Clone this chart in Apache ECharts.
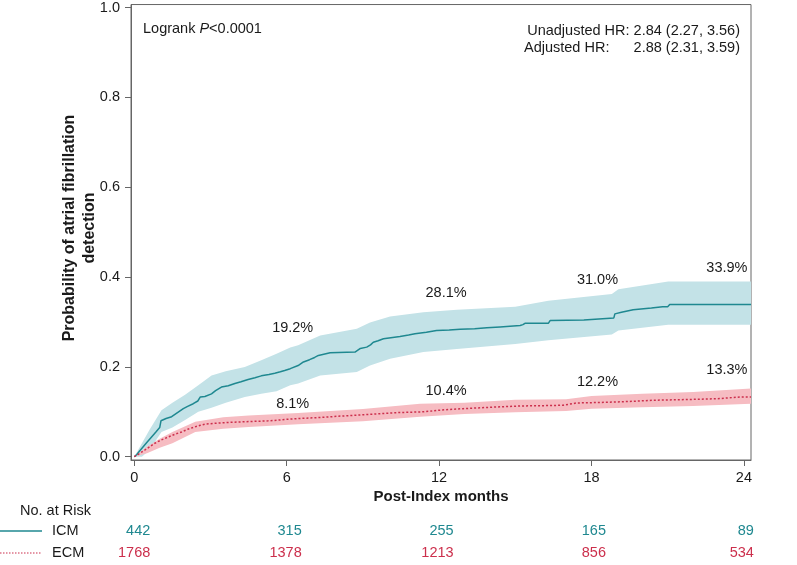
<!DOCTYPE html>
<html>
<head>
<meta charset="utf-8">
<script src="https://cdn.jsdelivr.net/npm/echarts@6/dist/echarts.min.js"></script>
<style>html,body{margin:0;padding:0;background:#fff}#c{width:797px;height:565px}</style>
</head>
<body>
<div id="c"></div>
<script>
// ---- data ----
const xTicks = [0, 6, 12, 18, 24];
const yTicks = [0, 0.2, 0.4, 0.6, 0.8, 1.0];
const groups = ['ICM', 'ECM'];

const icmTime = [0,0.1,0.2,0.35,0.5,0.68,0.85,1.0,1.05,1.25,1.47,1.7,1.93,2.1,2.32,2.5,2.6,2.78,3.04,3.2,3.43,3.7,3.96,4.2,4.48,4.75,5.0,5.3,5.53,5.75,5.92,6.14,6.45,6.66,6.9,7.1,7.25,7.71,8.69,8.9,9.15,9.3,9.41,9.6,9.81,10.1,10.46,10.8,11.05,11.5,11.9,12.4,12.83,13.4,13.88,14.4,14.79,15.19,15.3,15.38,16.3,16.37,17.7,17.74,18.88,18.92,19.18,19.64,20.36,20.8,21.0,21.08,24.28];
const icmEst  = [0,0.005,0.012,0.022,0.032,0.044,0.055,0.065,0.08,0.085,0.089,0.098,0.107,0.112,0.118,0.124,0.133,0.134,0.14,0.147,0.155,0.158,0.163,0.167,0.172,0.176,0.18,0.183,0.186,0.189,0.192,0.196,0.203,0.211,0.216,0.221,0.2255,0.2315,0.233,0.241,0.244,0.249,0.255,0.258,0.2625,0.265,0.2676,0.271,0.2736,0.277,0.281,0.282,0.284,0.285,0.287,0.289,0.2905,0.292,0.294,0.297,0.297,0.303,0.3046,0.309,0.309,0.318,0.3215,0.327,0.331,0.334,0.334,0.339,0.339];

const icmBandTime = [0,0.3,0.6,1.07,1.5,2.0,2.52,3.04,3.6,4.35,5.0,5.6,6.14,6.45,7.32,8.76,9.28,10.07,11.38,12.7,15.0,16.3,18.8,19.06,21.02,24.28];
const icmLower = [0,0.0,0.015,0.055,0.065,0.082,0.1,0.109,0.12,0.133,0.14,0.146,0.159,0.163,0.181,0.1885,0.203,0.218,0.233,0.24,0.251,0.259,0.272,0.281,0.2935,0.2935];
const icmUpper = [0,0.03,0.06,0.1035,0.12,0.138,0.159,0.181,0.19,0.2,0.215,0.229,0.243,0.248,0.27,0.285,0.299,0.312,0.3215,0.327,0.334,0.347,0.362,0.373,0.39,0.39];

const ecmTime = [0,0.2,0.42,0.6,0.81,1.05,1.34,1.6,1.86,2.1,2.39,2.6,2.78,3.1,3.43,3.8,4.22,4.7,5.27,5.6,5.92,6.45,7.2,8.0,8.76,9.5,10.3,11.38,12.1,12.95,14.0,15.19,16.0,16.89,17.42,18.5,19.5,20.43,21.5,22.3,23.05,23.84,24.28];
const ecmEst  = [0,0.007,0.015,0.022,0.03,0.037,0.044,0.05,0.055,0.061,0.0665,0.07,0.0725,0.074,0.0754,0.0765,0.0776,0.0787,0.0798,0.081,0.083,0.085,0.087,0.09,0.0925,0.095,0.098,0.1,0.104,0.107,0.11,0.113,0.1135,0.1146,0.1197,0.121,0.123,0.1257,0.127,0.128,0.1294,0.133,0.133];

const ecmBandTime = [0,0.5,1.0,1.5,2.4,3.5,4.5,6.45,9,11.25,13,15,17,18,20,22,24.28];
const ecmLower = [0,0.008,0.02,0.03,0.055,0.062,0.066,0.0725,0.079,0.089,0.095,0.099,0.102,0.107,0.11,0.113,0.118];
const ecmUpper = [0,0.022,0.04,0.055,0.078,0.088,0.092,0.0976,0.106,0.118,0.12,0.127,0.128,0.135,0.14,0.144,0.152];

const pctMonths = [6, 12, 18, 24];
const icmPct = [19.2, 28.1, 31.0, 33.9];
const ecmPct = [8.1, 10.4, 12.2, 13.3];

const riskMonths = [0, 6, 12, 18, 24];
const icmRisk = [442, 315, 255, 165, 89];
const ecmRisk = [1768, 1378, 1213, 856, 534];

const logrankText = ['Logrank ', 'P', '<0.0001'];
const hrUnadj = 'Unadjusted HR: 2.84 (2.27, 3.56)';
const hrAdjLabel = 'Adjusted HR:';
const hrAdjValue = '2.88 (2.31, 3.59)';
const yTitle = 'Probability of atrial fibrillation\ndetection';
const xTitle = 'Post-Index months';

// ---- style ----
const FONT = '"Liberation Sans", Arial, Helvetica, sans-serif';
const FS = 14.5;
const C_ICM = '#1f8890';
const C_ICM_BAND = '#c3e2e7';
const C_ECM = '#cc2f4c';
const C_ECM_BAND = '#f6bcc2';
const C_TXT = '#1a1a1a';
const C_AXIS = '#666';

const zip = (a, b) => a.map((v, i) => [v, b[i]]);

function bandSeries(name, t, lo, up, color) {
  return {
    type: 'custom', name: name, silent: true, z: 1,
    data: [[0]],
    renderItem: function (params, api) {
      const pts = [];
      for (let i = 0; i < t.length; i++) pts.push(api.coord([t[i], up[i]]));
      for (let i = t.length - 1; i >= 0; i--) pts.push(api.coord([t[i], lo[i]]));
      return { type: 'polygon', shape: { points: pts }, style: { fill: color } };
    },
    clip: true
  };
}

const chart = echarts.init(document.getElementById('c'), null, { renderer: 'canvas' });

const icmOffsets = [[6, -42], [7, -37], [6, -37.5], [-17, -36.5]];
const ecmOffsets = [[6, -16], [7, -19], [6, -20], [-17, -27]];

function pctSeries(vals, offs) {
  return {
    type: 'scatter', symbolSize: 0, silent: true, z: 5,
    itemStyle: { opacity: 1 },
    data: vals.map((v, i) => ({
      value: [pctMonths[i], v / 100],
      label: { show: true, position: 'inside', offset: offs[i], formatter: v.toFixed(1) + '%',
               color: C_TXT, fontSize: FS, fontFamily: FONT, opacity: 1 }
    }))
  };
}

const option = {
  animation: false,
  backgroundColor: '#fff',
  grid: { left: 131, right: 46, top: 3, bottom: 105, show: true, borderColor: C_AXIS, borderWidth: 1, backgroundColor: 'transparent' },
  xAxis: {
    type: 'value', min: -0.13, max: 24.28,
    axisLine: { show: true, onZero: false, lineStyle: { color: C_AXIS, width: 1 } },
    axisTick: { show: true, length: 6, lineStyle: { color: C_AXIS }, customValues: xTicks },
    axisLabel: { customValues: xTicks, color: C_TXT, fontSize: FS, fontFamily: FONT, margin: 10 },
    splitLine: { show: false }
  },
  yAxis: {
    type: 'value', min: -0.0073, max: 1.0066,
    axisLine: { show: true, onZero: false, lineStyle: { color: C_AXIS, width: 1 } },
    axisTick: { show: true, length: 6, lineStyle: { color: C_AXIS }, customValues: yTicks },
    axisLabel: { customValues: yTicks, color: C_TXT, fontSize: FS, fontFamily: FONT, margin: 11,
                 formatter: v => v.toFixed(1) },
    splitLine: { show: false }
  },
  series: [
    bandSeries('ICM CI', icmBandTime, icmLower, icmUpper, C_ICM_BAND),
    bandSeries('ECM CI', ecmBandTime, ecmLower, ecmUpper, C_ECM_BAND),
    { type: 'line', name: 'ICM', showSymbol: false, symbol: 'none', z: 3,
      data: zip(icmTime, icmEst), lineStyle: { color: C_ICM, width: 1.5 } },
    { type: 'line', name: 'ECM', showSymbol: false, symbol: 'none', z: 3,
      data: zip(ecmTime, ecmEst), lineStyle: { color: C_ECM, width: 1.5, type: [2, 2] } },
    pctSeries(icmPct, icmOffsets),
    pctSeries(ecmPct, ecmOffsets)
  ]
};
chart.setOption(option);

// ---- annotations & at-risk table ----
const g = [];
const base = { fill: C_TXT, fontSize: FS, fontFamily: FONT, verticalAlign: 'middle' };
const txt = (x, y, text, st) => g.push({ type: 'text', x: x, y: y, style: Object.assign({ text: text }, base, st || {}) });

g.push({
  type: 'text', x: 143, y: 29,
  style: Object.assign({}, base, {
    text: '{a|' + logrankText[0] + '}{i|' + logrankText[1] + '}{a|' + logrankText[2] + '}',
    rich: { a: { fontSize: FS, fontFamily: FONT, fill: C_TXT }, i: { fontSize: FS, fontFamily: FONT, fontStyle: 'italic', fill: C_TXT } }
  })
});
txt(740, 31, hrUnadj, { align: 'right' });
txt(524, 48, hrAdjLabel);
txt(740, 48, hrAdjValue, { align: 'right' });

// axis titles
g.push({ type: 'text', x: 80, y: 228, rotation: Math.PI / 2,
  style: { text: yTitle, fill: C_TXT, fontSize: 16, fontWeight: 'bold', fontFamily: FONT,
           align: 'center', verticalAlign: 'middle', lineHeight: 20 } });
g.push({ type: 'text', x: 441, y: 497,
  style: { text: xTitle, fill: C_TXT, fontSize: 15, fontWeight: 'bold', fontFamily: FONT,
           align: 'center', verticalAlign: 'middle' } });

// table
txt(20, 511, 'No. at Risk');
g.push({ type: 'line', shape: { x1: 0, y1: 531, x2: 42, y2: 531 }, style: { stroke: C_ICM, lineWidth: 1.5 } });
g.push({ type: 'line', shape: { x1: 0, y1: 553, x2: 42, y2: 553 }, style: { stroke: C_ECM, lineWidth: 1.2, lineDash: [1.5, 1.5] } });
txt(52, 531, groups[0]);
txt(52, 553, groups[1]);

const riskOffs = [16, 15, 14.5, 14.5, 10];
riskMonths.forEach((m, i) => {
  const px = chart.convertToPixel({ gridIndex: 0 }, [m, 0])[0] + riskOffs[i];
  txt(px, 531, String(icmRisk[i]), { fill: C_ICM, align: 'right' });
  txt(px, 553, String(ecmRisk[i]), { fill: C_ECM, align: 'right' });
});

chart.setOption({ graphic: g });
</script>
</body>
</html>
